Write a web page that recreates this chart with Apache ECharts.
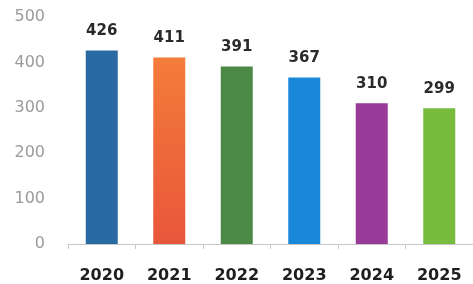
<!DOCTYPE html>
<html>
<head>
<meta charset="utf-8">
<script src="https://cdn.jsdelivr.net/npm/echarts@6/dist/echarts.min.js"></script>
<style>
  html, body { margin: 0; padding: 0; background: #fff; }
  #chart { width: 473px; height: 284px; }
</style>
</head>
<body>
<div id="chart"></div>
<script>
// 年份和数值
const years = ['2020', '2021', '2022', '2023', '2024', '2025'];
const values = [426, 411, 391, 367, 310, 299];
const barColors = ['#2a6aa4', '#f07038', '#4a8a46', '#1a88d8', '#983a98', '#78bc3e'];
const yTicks = [0, 100, 200, 300, 400, 500];

const chart = echarts.init(document.getElementById('chart'));

// 2021 柱子上橙下红
function barColor(i) {
  if (i === 1) {
    return new echarts.graphic.LinearGradient(0, 0, 0, 1, [
      { offset: 0, color: '#f47c3a' },
      { offset: 1, color: '#e8563a' }
    ]);
  }
  return barColors[i];
}

chart.setOption({
  animation: false,
  grid: { left: 68, top: 17, width: 407, height: 227 },
  xAxis: {
    type: 'category',
    data: years,
    axisLine: { lineStyle: { color: '#c8c8c8' } },
    axisTick: { show: true, length: 5, lineStyle: { color: '#c8c8c8' } },
    axisLabel: {
      color: '#1e1e1e', fontSize: 16, fontWeight: 'bold',
      fontFamily: 'DejaVu Sans', margin: 24
    }
  },
  yAxis: {
    type: 'value',
    min: yTicks[0],
    max: yTicks[yTicks.length - 1],
    interval: 100,
    axisLine: { show: false },
    axisTick: { show: false },
    splitLine: { show: false },
    axisLabel: {
      color: '#9a9a9a', fontSize: 16, fontFamily: 'DejaVu Sans', margin: 23
    }
  },
  series: [{
    type: 'bar',
    barWidth: 32,
    data: values.map((v, i) => ({ value: v, itemStyle: { color: barColor(i) } })),
    label: {
      show: true, position: 'top', distance: 12,
      color: '#2a2a2a', fontSize: 15, fontWeight: 'bold', fontFamily: 'DejaVu Sans'
    }
  }]
});
</script>
</body>
</html>
